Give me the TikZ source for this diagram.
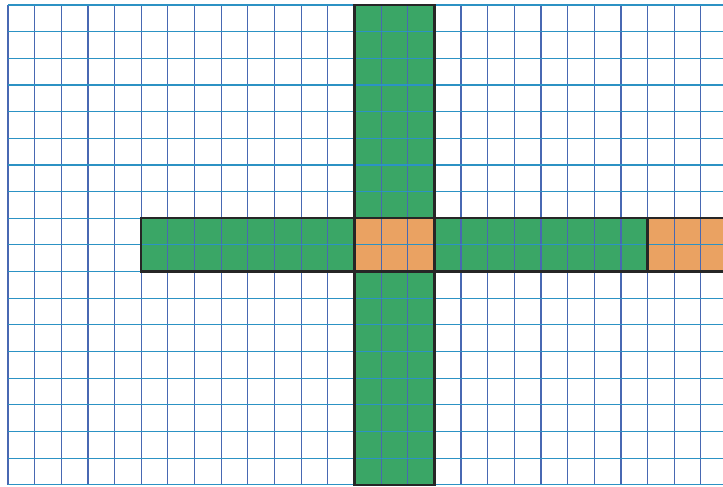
\documentclass[tikz,border=0pt]{standalone}
\usepackage{tikz}
\definecolor{paperv}{RGB}{72,104,178}
\definecolor{paperh}{RGB}{44,146,196}
\definecolor{barc}{RGB}{58,166,102}
\definecolor{crossc}{RGB}{234,162,98}
\tikzset{
  vline/.style = {draw=paperv, line width=0.6pt},
  hline/.style = {draw=paperh, line width=0.6pt},
  bar/.style   = {fill=barc},
  cross/.style = {fill=crossc},
  rim/.style   = {draw=black!85, line width=1.2pt},
}
\begin{document}
\begin{tikzpicture}[x=5mm,y=5mm]
\useasboundingbox (-0.3,-0.06) rectangle (26.83,18.19);

% coloured strips
\fill[bar] (13,0) rectangle (16,18);
\fill[bar] (5,8) rectangle (24,10);
\fill[cross] (13,8) rectangle (16,10);
\fill[cross] (24,8) rectangle (26.83,10);

% squared paper
\foreach \i in {0,...,26}
  \draw[vline] (\i,0) -- (\i,18);
\foreach \j in {0,...,18}
  \draw[hline] (0,\j) -- (26.83,\j);

% outlines
\draw[rim] (13,0) rectangle (16,18);
\draw[rim] (26.83,10) -- (5,10) -- (5,8) -- (26.83,8);
\draw[rim] (24,8) -- (24,10);

\end{tikzpicture}
\end{document}
